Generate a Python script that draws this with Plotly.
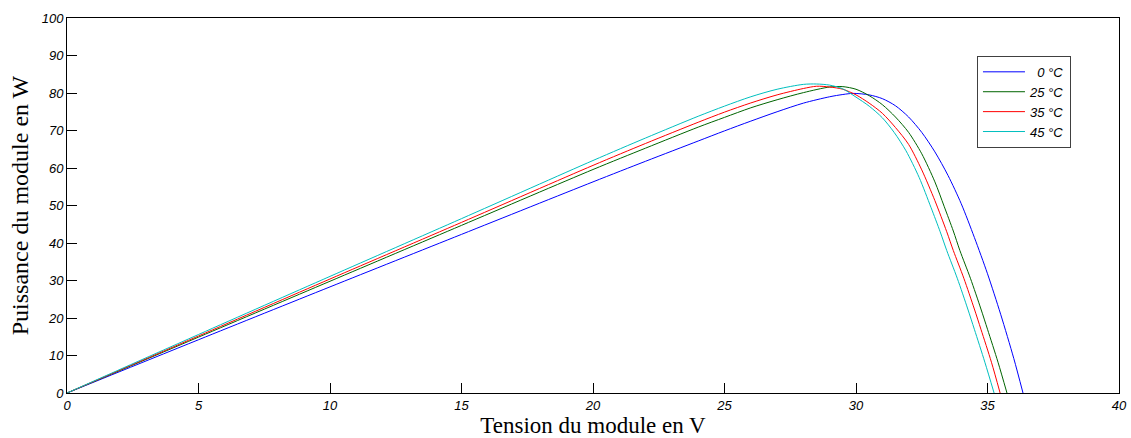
import plotly.graph_objects as go

# Power-voltage characteristic of the PV module at four cell temperatures
labels = ["\u20070 °C", "25 °C", "35 °C", "45 °C"]
colors = ["#0000FF", "#006400", "#FF0000", "#00BFBF"]

v_0c = [0, 5, 10, 15, 20, 22, 24, 25, 26, 27, 28, 29, 29.5, 29.9, 30.5, 31.0, 31.5,
        32.0, 32.5, 33.0, 33.5, 34.0, 34.5, 35.0, 35.5, 36.0, 36.35]
p_0c = [0, 14.2, 28.3, 42.3, 56.3, 61.8, 67.2, 69.9, 72.5, 75.0, 77.3, 79.0, 79.6, 79.9,
        79.5, 78.5, 76.6, 73.6, 69.5, 64.3, 58.0, 50.5, 41.5, 31.8, 21.0, 9.2, 0]

v_25c = [0, 5, 10, 15, 20, 22, 24, 25, 26, 27, 28, 29, 29.5, 30.0, 30.5, 31.0, 31.5,
         32.0, 32.5, 33.0, 33.35, 33.7, 33.95, 34.35, 34.75, 35.0, 35.4, 35.74]
p_25c = [0, 14.9, 29.8, 44.7, 59.6, 65.3, 70.9, 73.5, 76.05, 78.2, 80.1, 81.6, 81.7, 81.0,
         79.3, 76.9, 73.6, 69.5, 63.8, 56.3, 49.8, 43.2, 38.0, 30.6, 22.4, 17.0, 8.2, 0]

v_35c = [0, 5, 10, 15, 20, 22, 24, 25, 26, 27, 28, 28.5, 29, 29.5, 30.0, 30.5, 31.0,
         31.5, 32.0, 32.5, 33.0, 33.45, 33.7, 34.1, 34.5, 34.75, 35.15, 35.48]
p_35c = [0, 15.2, 30.4, 45.5, 60.7, 66.55, 72.2, 74.9, 77.35, 79.5, 81.2, 81.8, 81.6, 81.0,
         79.5, 77.3, 74.6, 70.8, 66.3, 59.5, 51.3, 43.0, 38.0, 30.6, 22.4, 17.0, 8.2, 0]

v_45c = [0, 5, 10, 15, 20, 22, 24, 25, 26, 27, 28, 28.5, 29, 29.5, 30.0, 30.5, 31.0,
         31.45, 31.9, 32.4, 32.85, 33.2, 33.45, 33.85, 34.25, 34.5, 34.9, 35.25]
p_45c = [0, 15.6, 31.1, 46.5, 62.0, 68.0, 73.8, 76.5, 79.0, 81.0, 82.3, 82.4, 82.1, 81.1,
         78.9, 76.5, 73.4, 69.5, 64.6, 57.5, 49.5, 43.0, 38.0, 30.6, 22.4, 17.0, 8.2, 0]

x_ticks = list(range(0, 41, 5))
y_ticks = list(range(0, 101, 10))

series = [(v_0c, p_0c), (v_25c, p_25c), (v_35c, p_35c), (v_45c, p_45c)]

fig = go.Figure()
for (v, p), name, col in zip(series, labels, colors):
    fig.add_trace(go.Scatter(
        x=v, y=p, mode="lines", name=name,
        line=dict(color=col, width=1, shape="spline", smoothing=0.8),
    ))

axis_common = dict(
    showgrid=False, zeroline=False, automargin=False,
    showline=True, linecolor="black", linewidth=1, mirror=True,
    ticks="inside", ticklen=10, tickcolor="black", tickwidth=1,
    tickfont=dict(family="Liberation Sans", size=13, color="black", style="italic"),
)

fig.update_layout(
    width=1131, height=438,
    margin=dict(l=67, r=12, t=18, b=45),
    paper_bgcolor="white", plot_bgcolor="white",
    showlegend=True,
    legend=dict(
        x=0.865, y=0.899, xanchor="left", yanchor="top",
        bgcolor="white", bordercolor="#404040", borderwidth=1,
        font=dict(family="Liberation Sans", size=13, color="black", style="italic"),
        itemwidth=42,
    ),
    xaxis=dict(
        range=[0, 40], tickvals=x_ticks,
        title=dict(text="Tension du module en V", standoff=8,
                   font=dict(family="Liberation Serif", size=23, color="black")),
        **axis_common,
    ),
    yaxis=dict(
        range=[0, 100], tickvals=y_ticks,
        title=dict(text="Puissance du module en W", standoff=6,
                   font=dict(family="Liberation Serif", size=24, color="black")),
        **axis_common,
    ),
)

fig.write_html("out.html")
